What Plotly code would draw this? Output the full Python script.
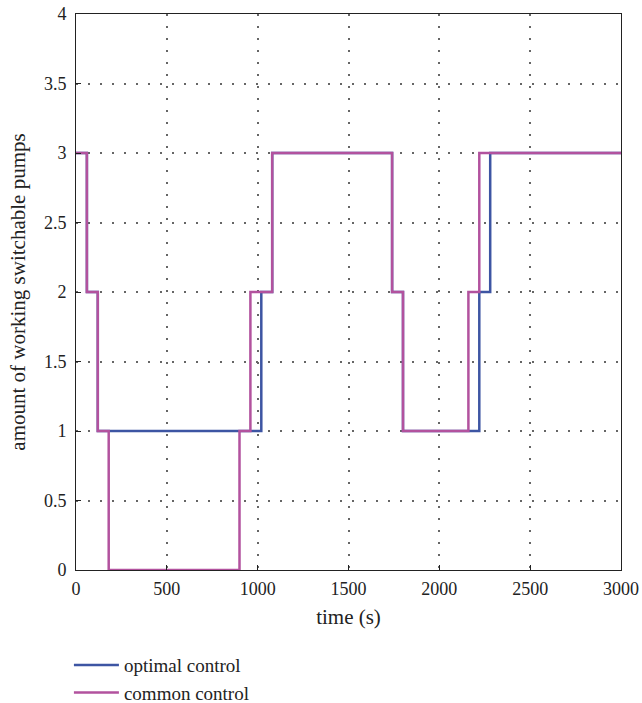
import plotly.graph_objects as go

time_optimal = [0, 60, 120, 1020, 1080, 1740, 1800, 2220, 2280, 3000]
pumps_optimal = [3, 2, 1, 2, 3, 2, 1, 2, 3, 3]
time_common = [0, 60, 120, 180, 900, 960, 1080, 1740, 1800, 2160, 2220, 3000]
pumps_common = [3, 2, 1, 0, 1, 2, 3, 2, 1, 2, 3, 3]

x_ticks = [0, 500, 1000, 1500, 2000, 2500, 3000]
y_ticks = [0, 0.5, 1, 1.5, 2, 2.5, 3, 3.5, 4]
y_tick_labels = ["0", "0.5", "1", "1.5", "2", "2.5", "3", "3.5", "4"]

font = "Liberation Serif"
txt = "#222222"

fig = go.Figure()
fig.add_trace(go.Scatter(x=time_optimal, y=pumps_optimal, mode="lines", line_shape="hv",
                         line=dict(color="#3D55A3", width=2.5), name="optimal control"))
fig.add_trace(go.Scatter(x=time_common, y=pumps_common, mode="lines", line_shape="hv",
                         line=dict(color="#B2529E", width=2.5), name="common control"))

axis_common = dict(showline=True, linecolor="#222222", linewidth=1, mirror=True,
                   ticks="inside", ticklen=5, tickcolor="#222222",
                   showgrid=True, gridcolor="#666666", griddash="1.5px,10.5px", gridwidth=1.5,
                   zeroline=False, automargin=False,
                   tickfont=dict(family=font, size=18, color=txt))

fig.update_xaxes(range=[0, 3000], tickvals=x_ticks, ticklabelstandoff=2,
                 title=dict(text="time (s)", font=dict(family=font, size=21, color=txt), standoff=11),
                 **axis_common)
fig.update_yaxes(range=[0, 4], tickvals=y_ticks, ticktext=y_tick_labels, ticklabelstandoff=5,
                 title=dict(text="amount of working switchable pumps", font=dict(family=font, size=21, color=txt), standoff=12),
                 **axis_common)

fig.update_layout(
    width=642, height=703,
    margin=dict(l=76, r=21, t=14, b=133),
    plot_bgcolor="white", paper_bgcolor="white",
    font=dict(family=font, size=18, color=txt),
    showlegend=True,
    legend=dict(x=-0.013, y=0.081, xref="paper", yref="container",
                xanchor="left", yanchor="top", orientation="v",
                font=dict(family=font, size=19, color=txt), tracegroupgap=0,
                itemwidth=45, bgcolor="rgba(0,0,0,0)"),
)

fig.write_html("out.html", config={"displayModeBar": False},
               post_script="document.body.style.margin='0';")
